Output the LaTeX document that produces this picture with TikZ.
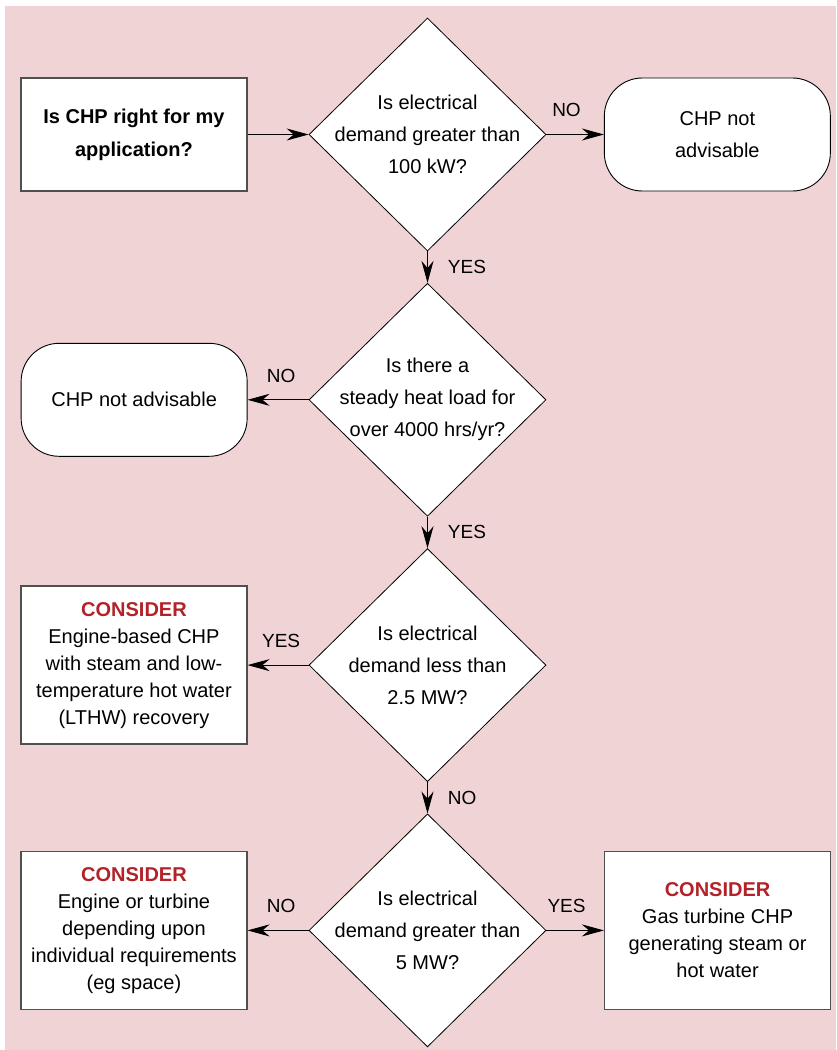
\documentclass[tikz,border=0pt]{standalone}
\usepackage{fontspec}
\setmainfont{Liberation Sans}
\usepackage{tikz,xcolor}
\usetikzlibrary{shapes.geometric,arrows.meta,positioning}
\definecolor{pinkbg}{RGB}{239,211,213}
\definecolor{consred}{RGB}{178,34,40}
\definecolor{boxline}{RGB}{80,80,80}

\begin{document}
\begin{tikzpicture}[x=1pt,y=-1pt,>={Stealth[length=22pt,width=12pt]},
	every node/.style={shape=rectangle,draw,fill=white,align=center,font=\fontsize{20}{32}\selectfont},
	query/.style={shape=diamond,minimum width=237pt,minimum height=233pt,inner sep=-14pt,line width=0.8pt},
	chpbox/.style={draw=boxline,line width=1.3pt,minimum width=226pt,minimum height=113pt},
	stopbox/.style={line width=0.9pt,minimum width=226pt,minimum height=113pt,rounded corners=38pt},
	consbox/.style={chpbox,minimum height=158pt,font=\fontsize{20}{27}\selectfont},
	ans/.style={draw=none,fill=none,inner sep=0pt,font=\fontsize{19}{22}\selectfont},]
	% background
	\useasboundingbox (0,0) rectangle (836,1050);
	\fill[pinkbg] (5,6) rectangle (836,1050);

	% create the nodes
	\node (c1)[query] at (427.5,134.5) {Is electrical\\demand greater than\\100 kW?};
	\node (start)[chpbox, left = 61pt of c1, font=\fontsize{20}{33}\selectfont\bfseries] {Is CHP right for my\\application?};
	\node (stop1)[stopbox, right = 57.5pt of c1] {CHP not\\advisable};
	\node (c2)[query, below = 31.5pt of c1] {Is there a\\steady heat load for\\over 4000 hrs/yr?};
	\node (stop2)[stopbox, left = 61pt of c2] {CHP not advisable};
	\node (c3)[query, below = 31.5pt of c2] {Is electrical\\demand less than\\2.5 MW?};
	\node (cons1)[consbox, left = 61pt of c3] {{\bfseries\color{consred}CONSIDER}\\Engine-based CHP\\with steam and low-\\temperature hot water\\(LTHW) recovery};
	\node (c4)[query, below = 31.5pt of c3] {Is electrical\\demand greater than\\5 MW?};
	\node (cons2)[consbox, left = 61pt of c4] {{\bfseries\color{consred}CONSIDER}\\Engine or turbine\\depending upon\\individual requirements\\(eg space)};
	\node (cons3)[consbox, right = 57.5pt of c4] {{\bfseries\color{consred}CONSIDER}\\Gas turbine CHP\\generating steam or\\hot water};

	% connect the nodes
	\draw[->, line width=0.9pt] (start) -- (c1);
	\draw[->, line width=0.9pt] (c1) -- node[ans, pos=0.35, above=17pt] {NO} (stop1);
	\draw[->, line width=0.9pt] (c1) -- node[ans, right=20pt] {YES} (c2);
	\draw[->, line width=0.9pt] (c2) -- node[ans, pos=0.45, above=17pt] {NO} (stop2);
	\draw[->, line width=0.9pt] (c2) -- node[ans, right=20pt] {YES} (c3);
	\draw[->, line width=0.9pt] (c3) -- node[ans, pos=0.45, above=17pt] {YES} (cons1);
	\draw[->, line width=0.9pt] (c3) -- node[ans, right=20pt] {NO} (c4);
	\draw[->, line width=0.9pt] (c4) -- node[ans, pos=0.45, above=17pt] {NO} (cons2);
	\draw[->, line width=0.9pt] (c4) -- node[ans, pos=0.35, above=17pt] {YES} (cons3);

\end{tikzpicture}
\end{document}
